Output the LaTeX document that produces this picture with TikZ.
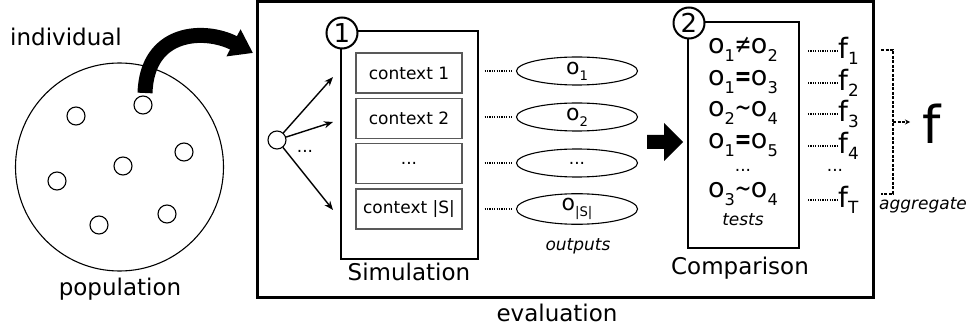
\documentclass[tikz,border=0pt]{standalone}
\usepackage{fontspec}
\setmainfont{DejaVu Sans}
\usetikzlibrary{shapes.geometric,arrows.meta}
\newcommand\fsz[1]{\fontsize{#1}{#1}\selectfont}
\newcommand\osub[1]{\raisebox{-0.28em}{\scalebox{0.6}{#1}}}
\newcommand\fsub[1]{\raisebox{-0.2em}{\scalebox{0.6}{#1}}}
\newcommand\rel[1]{\hspace{-0.5pt}\smash{\scalebox{0.75}[1]{\fsz{27}#1}}\hspace{-0.5pt}}
\begin{document}
\begin{tikzpicture}[x=1pt,y=-1pt,
  dot/.style={circle,draw,line width=1.1pt,minimum size=18pt,inner sep=0pt,fill=white},
  biglabel/.style={font=\fsz{23}},
  smalllabel/.style={font=\fsz{17}},
  ital/.style={font=\fsz{17}\itshape},
  ctx/.style={draw=black!65,line width=1.2pt,minimum width=106pt,minimum height=40pt,inner sep=0pt,font=\fsz{17}},
  outell/.style={ellipse,draw,line width=1.1pt,minimum width=121pt,minimum height=28pt,inner sep=0pt,font=\fsz{22}},
  numc/.style={circle,draw,line width=2pt,fill=white,minimum size=31pt,inner sep=0pt,font=\fsz{26}},
  reltext/.style={font=\fsz{27},inner sep=0pt},
  ftext/.style={font=\fsz{28},inner sep=0pt,anchor=west},
  dotline/.style={line width=1.2pt,dash pattern=on 1.2pt off 1.2pt},
  thinarrow/.style={line width=1.4pt,-{Stealth[length=9pt,width=7pt]}},
]
\useasboundingbox (0,0) rectangle (974,331);

% population
\node[circle,draw,line width=1.1pt,minimum size=208pt,inner sep=0pt] (pop) at (119.5,167) {};
\node[dot] (p1) at (143,105) {};
\node[dot] (p2) at (76,116) {};
\node[dot] (p3) at (184,152) {};
\node[dot] (p4) at (123,166) {};
\node[dot] (p5) at (57,181) {};
\node[dot] (p6) at (167,214) {};
\node[dot] (p7) at (99,225) {};
\node[biglabel] (indiv) at (66,37) {individual};
\node[biglabel] (poplab) at (120,289) {population};

% evaluation box
\draw[line width=3pt] (257,2) rectangle (873,297);
\node[biglabel] (evallab) at (557,313) {evaluation};

% curved arrow
\coordinate (arrstart) at (145,93);
\coordinate (arrend) at (253,53);
\draw[line width=15pt,-{Triangle[length=22pt,width=29pt]}] (arrstart) .. controls (147,30) and (205,28) .. (arrend);

% simulation
\draw[line width=2.5pt] (341,31) rectangle (478,259);
\node[numc] (n1) at (342,33) {1};
\node[biglabel] (simlab) at (409,272) {Simulation};
\node[ctx] (c1) at (409,73) {context 1};
\node[ctx] (c2) at (409,118.5) {context 2};
\node[ctx] (c3) at (409,163.5) {...};
\node[ctx] (c4) at (409,209) {context |S|};

\node[dot] (src) at (277,140) {};
\coordinate (e1) at (333,77);
\coordinate (e2) at (333,122);
\coordinate (e4) at (333,210);
\draw[thinarrow] (src) -- (e1);
\draw[thinarrow] (src) -- (e2);
\draw[thinarrow] (src) -- (e4);
\node[smalllabel] (srcdots) at (305,151) {...};

% outputs
\node[outell] (o1) at (577,71) {o\osub{1}};
\node[outell] (o2) at (577,117) {o\osub{2}};
\node[outell,font=\fsz{17}] (o3) at (577,163) {...};
\node[outell] (o4) at (577,209) {o\osub{|S|}};
\node[ital] (outlab) at (578,246) {outputs};
\draw[dotline] ([xshift=22pt]c1.east|-o1.west) -- ([xshift=-4pt]o1.west);
\draw[dotline] ([xshift=22pt]c2.east|-o2.west) -- ([xshift=-4pt]o2.west);
\draw[dotline] ([xshift=22pt]c3.east|-o3.west) -- ([xshift=-4pt]o3.west);
\draw[dotline] ([xshift=22pt]c4.east|-o4.west) -- ([xshift=-4pt]o4.west);

% block arrow
\fill (647,135) -- (664,135) -- (664,123) -- (683,142) -- (664,161) -- (664,149) -- (647,149) -- cycle;

% comparison
\draw[line width=2.5pt] (688,22) rectangle (799,248);
\node[numc] (n2) at (689,23) {2};
\node[biglabel] (complab) at (740,268) {Comparison};
\node[reltext] (t1) at (743,50) {o\osub{1}\rel{≠}o\osub{2}};
\node[reltext] (t2) at (743,82) {o\osub{1}\rel{\textbf{=}}o\osub{3}};
\node[reltext] (t3) at (743,113) {o\osub{2}\rel{∼}o\osub{4}};
\node[reltext] (t4) at (743,145) {o\osub{1}\rel{\textbf{=}}o\osub{5}};
\node[smalllabel] (t5) at (743,170) {...};
\node[reltext] (t6) at (743,194) {o\osub{3}\rel{∼}o\osub{4}};
\node[ital] (testlab) at (743,220) {tests};

% f_i
\node[ftext] (f1) at (838,51) {f\fsub{1}};
\node[ftext] (f2) at (838,83) {f\fsub{2}};
\node[ftext] (f3) at (838,114) {f\fsub{3}};
\node[ftext] (f4) at (838,146) {f\fsub{4}};
\node[smalllabel] (f5) at (835,170) {...};
\node[ftext] (fT) at (838,200) {f\fsub{T}};
\coordinate (d1) at (808,51);
\coordinate (d2) at (808,83);
\coordinate (d3) at (808,114);
\coordinate (d4) at (808,146);
\coordinate (dT) at (808,200);
\draw[dotline] (d1) -- (f1.west);
\draw[dotline] (d2) -- (f2.west);
\draw[dotline] (d3) -- (f3.west);
\draw[dotline] (d4) -- (f4.west);
\draw[dotline] (dT) -- (fT.west);

% aggregate
\coordinate (ag1) at (881,50);
\coordinate (ag2) at (893,50);
\coordinate (ag3) at (893,194);
\coordinate (ag4) at (881,194);
\coordinate (agm) at (893,122);
\node[font=\fsz{52},inner sep=0pt] (F) at (932,124) {f};
\draw[line width=1.5pt,dash pattern=on 3pt off 1.5pt] (ag1) -- (ag2) -- (ag3) -- (ag4);
\draw[line width=1.3pt,dash pattern=on 3pt off 1.5pt,-{Stealth[length=5pt,width=5pt]}] (agm) -- (910,122);
\node[ital] (aglab) at (923,205) {aggregate};
\end{tikzpicture}
\end{document}
